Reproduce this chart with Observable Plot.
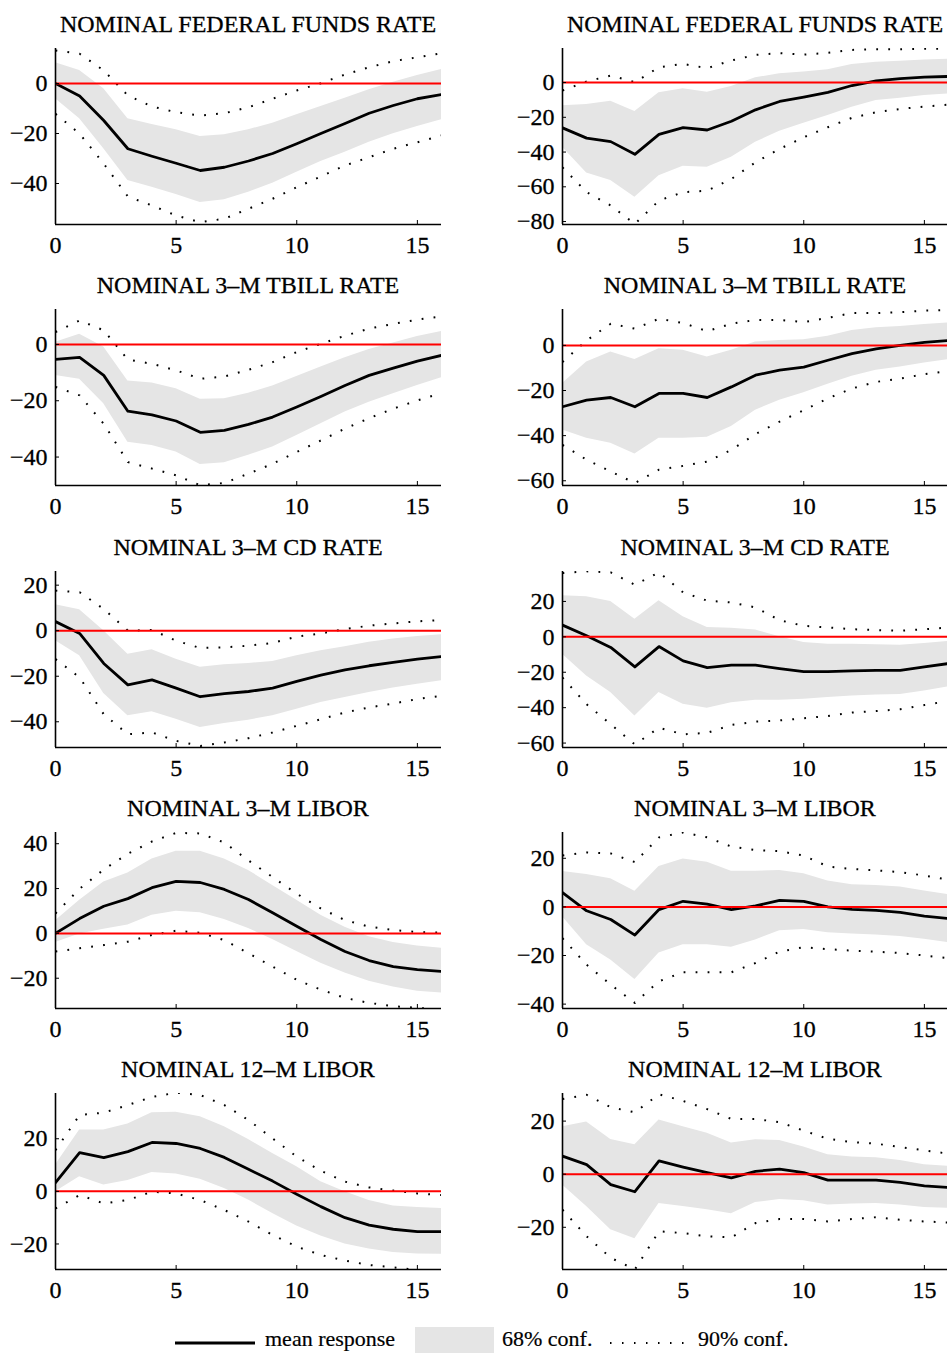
<!DOCTYPE html>
<html>
<head>
<meta charset="utf-8">
<script src="https://cdn.jsdelivr.net/npm/d3@7"></script>
<script src="https://cdn.jsdelivr.net/npm/@observablehq/plot@0.6"></script>
<style>
  html, body { margin: 0; padding: 0; background: #fff; }
  #root { position: relative; width: 947px; height: 1353px; overflow: hidden; background: #fff; font-family: "Liberation Serif", Tinos, "Times New Roman", "DejaVu Serif", serif; }
  .title { position: absolute; width: 386px; text-align: center; font-size: 24px; line-height: 24px; color: #000; white-space: nowrap; -webkit-text-stroke: 0.3px #000; }
  .panel { position: absolute; }
  svg.panel text { stroke: #000; stroke-width: 0.3px; }
  .leg { position: absolute; font-size: 22px; line-height: 22px; color: #000; white-space: nowrap; -webkit-text-stroke: 0.2px #000; }
</style>
</head>
<body>
<div id="root"></div>
<script>
// ---------- data ----------
const horizon = [0,1,2,3,4,5,6,7,8,9,10,11,12,13,14,15,16];
const xTicks = [0, 5, 10, 15];
const titles = ["NOMINAL FEDERAL FUNDS RATE", "NOMINAL 3–M TBILL RATE", "NOMINAL 3–M CD RATE", "NOMINAL 3–M LIBOR", "NOMINAL 12–M LIBOR"];

// Row 1, left: federal funds rate
const ffrL_mean = [0,-5,-14.8,-26.1,-29.1,-31.9,-34.8,-33.5,-31,-28,-24.1,-20,-16,-11.9,-8.8,-6.1,-4.4];
const ffrL_hi68 = [8.3,5.2,-2.1,-14.1,-16.4,-18.5,-21.2,-20.5,-18.5,-15.9,-12.5,-9.2,-5.9,-2.5,0.5,3.2,5.6];
const ffrL_lo68 = [-6.1,-14.1,-26.1,-38.8,-41.5,-44.4,-47.6,-46.5,-43.5,-39.9,-35.5,-31.2,-27.5,-23.5,-20.1,-17.2,-14.5];
const ffrL_hi90 = [13.2,11.9,5.2,-4.8,-9.2,-11.5,-12.8,-11.9,-9.5,-6.1,-2.8,0.1,3.6,6.5,8.9,10.5,12.1];
const ffrL_lo90 = [-12.1,-20.1,-32.1,-45.2,-48.8,-52.8,-55.5,-54.1,-50.1,-46.1,-41.5,-37.2,-32.8,-29.5,-26.1,-23.5,-20.8];

// Row 1, right: federal funds rate
const ffrR_mean = [-26.1,-32,-34,-41.3,-29.8,-25.9,-27.3,-22.3,-15.7,-10.9,-8.4,-5.6,-1.7,1,2.3,3.1,3.5];
const ffrR_hi68 = [-13.4,-12.7,-10.7,-16.7,-5.8,-3.6,-5.6,-2.3,2.7,5,6.1,7.3,10.4,11.7,12.3,13,13.4];
const ffrR_lo68 = [-37.2,-52,-56.4,-66,-53.6,-48.2,-48.8,-43,-34.4,-28,-23.4,-19,-14.2,-10.4,-9,-7.5,-6.5];
const ffrR_hi90 = [-4.6,0.6,4,0.2,8.8,10.7,8.3,12.7,15.9,16.9,16.1,17.1,18.8,19.2,19.2,19.4,19.4];
const ffrR_lo90 = [-48.8,-63.1,-70.8,-81.4,-67.9,-63.1,-62.2,-55.5,-45.9,-38.2,-31.5,-25.7,-20.3,-17.1,-15.2,-13.8,-12.7];

// Row 2, left: 3-M T-bill
const tbL_mean = [-5.3,-4.6,-11,-23.7,-25,-27.2,-31.2,-30.5,-28.4,-25.8,-22.2,-18.5,-14.6,-11,-8.4,-5.9,-3.9];
const tbL_hi68 = [0.8,3.6,-0.9,-13,-13.7,-15.7,-19.5,-19.3,-17.3,-14.8,-11.4,-8,-4.7,-1.8,0.5,2.8,4.6];
const tbL_lo68 = [-11,-12.4,-21.1,-34.7,-35.9,-38.2,-42.6,-42,-39.4,-36.4,-32.3,-28.2,-24,-20.5,-17.5,-14.6,-11.8];
const tbL_hi90 = [4.4,8.5,5,-5.4,-6.9,-9.2,-12.2,-11.4,-9,-6.3,-2.7,0.2,3.1,5.6,7.3,8.8,9.9];
const tbL_lo90 = [-15.1,-18.1,-28.2,-41.8,-44.1,-46.5,-50,-49.2,-45.9,-42.4,-38.2,-34.1,-29.9,-26.2,-22.8,-19.9,-17.3];

// Row 2, right: 3-M T-bill
const tbR_mean = [-27.2,-24.3,-23.1,-27.2,-21.3,-21.3,-23.1,-18.4,-13.2,-11,-9.6,-6.6,-3.7,-1.5,0,1.3,2.2];
const tbR_hi68 = [-16.9,-7.4,-2.9,-6.3,-1.5,-2.2,-5.1,-2.2,1.5,2.2,2.5,4,6.6,7.8,8.4,9.3,9.9];
const tbR_lo68 = [-37.5,-41.2,-43.4,-48.1,-41.2,-41.2,-40.7,-36,-28.7,-24.3,-21,-17.2,-13.7,-11,-9.6,-7.8,-6.3];
const tbR_hi90 = [-7.4,2.2,9.6,7.4,11.8,9.9,6.3,9.6,11.3,11.3,10.3,12.2,14.3,14.3,14.7,15.4,15.7];
const tbR_lo90 = [-44.1,-50.7,-55.9,-61,-55.1,-53.4,-51.5,-46.3,-39.3,-33.8,-28.7,-23.5,-19.1,-16.2,-14.7,-12.8,-11.3];

// Row 3, left: 3-M CD rate
const cdL_mean = [4,-1.2,-14.4,-23.8,-21.6,-25.2,-29,-27.6,-26.7,-25.2,-22.3,-19.5,-17.2,-15.4,-13.9,-12.5,-11.4];
const cdL_hi68 = [11.4,9.2,0,-10.3,-8.4,-12.5,-16.1,-15,-14.4,-13.5,-11,-8.8,-7,-5.1,-3.7,-2.6,-1.8];
const cdL_lo68 = [-4.4,-11,-27.6,-37.4,-35.6,-38.9,-42.5,-40.8,-39.3,-37.4,-34.5,-31.5,-29.3,-27.1,-25.2,-23.5,-22];
const cdL_hi90 = [17.6,16.9,9.5,0,0.3,-4.4,-7.6,-7.3,-6.6,-5.4,-2.6,-1.2,0.7,2.2,3.2,4.1,4.7];
const cdL_lo90 = [-12.5,-20.5,-36.7,-45.5,-44.7,-48.4,-50.6,-49.1,-47.2,-44.7,-41.8,-38.9,-35.9,-33.7,-32,-30,-28.6];

// Row 3, right: 3-M CD rate
const cdR_mean = [6.6,0.6,-6,-17,-5.5,-13.6,-17.4,-16,-16,-17.9,-19.6,-19.6,-19.2,-18.9,-18.9,-17,-15.1];
const cdR_hi68 = [23.2,22.6,20,10,20.4,11.3,5.3,4.9,3.8,0,-3.2,-4.2,-4.2,-4.5,-4.7,-3.8,-2.6];
const cdR_lo68 = [-9.8,-22.1,-31.5,-44.7,-31.5,-38.1,-40.4,-37.2,-35.8,-35.8,-35.3,-34.3,-33.4,-32.8,-32.5,-30.6,-28.3];
const cdR_hi90 = [36,37,36.4,29.4,36.4,25.1,20.4,19.4,16.6,9.4,6.2,5.3,4.3,3.8,3.4,4.3,5.3];
const cdR_lo90 = [-23,-38.1,-49.4,-60.8,-51.3,-55.1,-54.2,-49.8,-47.9,-47.2,-46,-44.7,-42.8,-41.9,-40.9,-38.5,-36.2];

// Row 4, left: 3-M LIBOR
const l3L_mean = [0,6.6,12.1,15.5,20.4,23.2,22.7,19.6,15.1,9.2,3.2,-2.7,-8.1,-12.1,-14.8,-16.2,-17];
const l3L_hi68 = [5.6,14.8,22.9,26.9,33.2,36.6,36.6,33.2,28.1,21.4,14.8,8.1,2.7,-1.5,-4.1,-5.6,-6.6];
const l3L_lo68 = [-4.1,-0.3,1.8,3.7,8.1,9.9,9.2,6.2,2.2,-2.7,-8.1,-13.3,-17.7,-21.4,-23.9,-25.8,-26.6];
const l3L_hi90 = [8.9,19.9,28.5,35.5,41,44.8,44.6,40.5,32.5,25.1,17.7,11.1,5.9,3,1.5,0.6,0.3];
const l3L_lo90 = [-8.1,-6.6,-5.2,-3.7,-0.7,1.2,0.3,-3,-8.9,-14.8,-20.7,-25.1,-28.8,-31,-32.5,-33.2,-34];

// Row 4, right: 3-M LIBOR
const l3R_mean = [5.9,-1.6,-5.2,-11.6,-1.1,2.3,1.1,-1.1,0.4,2.7,2.3,0,-1,-1.4,-2.3,-3.8,-4.8];
const l3R_hi68 = [14.6,13.3,11.6,6.4,16.6,19.7,18.4,14.7,14.7,15,13.6,10.6,9.1,8.8,8.2,6.5,5];
const l3R_lo68 = [-4.1,-15.6,-21.8,-29.9,-19,-15.6,-15.6,-16.6,-13.6,-9.8,-9.3,-10.6,-11.2,-11.6,-12.2,-13.3,-14.7];
const l3R_hi90 = [21.1,22.4,22,18.4,28.6,30.6,28.6,24.8,23.4,22.9,21.1,16.6,15.6,15,14.3,12.9,11.2];
const l3R_lo90 = [-12.9,-23.8,-32,-39.5,-30.6,-26.9,-26.9,-26.9,-23.1,-18.4,-16.6,-17.4,-18,-18.4,-19,-20,-21.1];

// Row 5, left: 12-M LIBOR
const l12L_mean = [3.3,14.7,12.8,15.1,18.6,18.2,16.3,12.9,8.4,3.9,-1.1,-5.8,-10,-12.8,-14.4,-15.3,-15.3];
const l12L_hi68 = [10,23.3,23.3,25.6,29.9,30.1,28.4,24.6,19.7,14.4,9.4,3.7,-0.1,-3.5,-5.6,-6.1,-6.5];
const l12L_lo68 = [-0.1,5.6,2.4,4.1,7.2,6.6,4.6,1.1,-3.3,-8.4,-13.2,-17,-20,-21.9,-23.2,-23.8,-23.9];
const l12L_hi90 = [15.7,29,29.9,32.8,35.9,37.5,36.6,32.8,27.1,20.1,13.2,7.8,3.7,1.5,0.3,-0.8,-1.4];
const l12L_lo90 = [-6.5,-1.4,-4.6,-3.3,-0.1,-0.8,-3.3,-7.1,-11.5,-16.6,-21,-24.2,-26.3,-28,-28.9,-29.9,-30.1];

// Row 5, right: 12-M LIBOR
const l12R_mean = [6.8,3.6,-3.9,-6.6,5,2.7,0.6,-1.4,1.1,1.9,0.6,-2.2,-2.2,-2.2,-3.1,-4.4,-5];
const l12R_hi68 = [17.9,19.7,13.1,11.1,20.4,17.9,15.4,11.8,13,12.7,10.2,7.3,6.5,6.2,5.2,3.6,3];
const l12R_lo68 = [-4.1,-12.2,-20.9,-24.3,-11,-12.2,-13.4,-14.9,-10.7,-9.5,-10,-11.6,-11.2,-11,-11.6,-12.5,-12.8];
const l12R_hi90 = [28.3,29.9,25.2,23.3,30.1,27.6,24.5,20.8,20.8,19.6,16.4,13.3,12.1,11.5,10.2,9,7.7];
const l12R_lo90 = [-13.4,-23.4,-31.5,-35.9,-21.5,-22.2,-23.4,-23.8,-18.4,-16.9,-16.9,-17.8,-16.9,-16.2,-17.2,-17.8,-18.2];

// y-axis domains and tick labels per panel (row-major: left, right)
const yDomains = [[-56.4,14],[-81.7,19.6],[-50.1,12.4],[-62.1,15.9],[-51.3,26],[-62.5,36.9],[-33.5,45],[-41.8,30.6],[-29.7,37.2],[-35.9,30.4]];
const yTickSets = [[-40,-20,0],[-80,-60,-40,-20,0],[-40,-20,0],[-60,-40,-20,0],[-40,-20,0,20],[-60,-40,-20,0,20],[-20,0,20,40],[-40,-20,0,20],[-20,0,20],[-20,0,20]];

const series = [
  [ffrL_mean, ffrL_lo68, ffrL_hi68, ffrL_lo90, ffrL_hi90],
  [ffrR_mean, ffrR_lo68, ffrR_hi68, ffrR_lo90, ffrR_hi90],
  [tbL_mean, tbL_lo68, tbL_hi68, tbL_lo90, tbL_hi90],
  [tbR_mean, tbR_lo68, tbR_hi68, tbR_lo90, tbR_hi90],
  [cdL_mean, cdL_lo68, cdL_hi68, cdL_lo90, cdL_hi90],
  [cdR_mean, cdR_lo68, cdR_hi68, cdR_lo90, cdR_hi90],
  [l3L_mean, l3L_lo68, l3L_hi68, l3L_lo90, l3L_hi90],
  [l3R_mean, l3R_lo68, l3R_hi68, l3R_lo90, l3R_hi90],
  [l12L_mean, l12L_lo68, l12L_hi68, l12L_lo90, l12L_hi90],
  [l12R_mean, l12R_lo68, l12R_hi68, l12R_lo90, l12R_hi90]
];

// ---------- layout ----------
const plotW = 386, plotH = 176;
const mL = 55, mR = 6, mT = 4, mB = 38;
const rowTops = [48, 309, 571, 832, 1093];
const colLefts = [55, 562];
const FONT = '"Liberation Serif", Tinos, "Times New Roman", "DejaVu Serif", serif';

const root = document.getElementById("root");

series.forEach((s, k) => {
  const row = Math.floor(k / 2), col = k % 2;
  const [mean, lo68, hi68, lo90, hi90] = s;
  const data = horizon.map((h, i) => ({h, mean: mean[i], lo68: lo68[i], hi68: hi68[i], lo90: lo90[i], hi90: hi90[i]}));
  const dom = yDomains[k], yt = yTickSets[k];
  const dotted = {stroke: "#000", strokeWidth: 2, strokeDasharray: "1.8,10.2", strokeLinecap: "butt", clip: true};

  const svg = Plot.plot({
    width: mL + plotW + mR,
    height: mT + plotH + mB,
    marginLeft: mL, marginRight: mR, marginTop: mT, marginBottom: mB,
    x: {domain: [0, 16], ticks: xTicks, tickSize: 0, tickPadding: 11, label: null},
    y: {domain: dom, ticks: yt, tickSize: 0, tickPadding: 8, label: null},
    style: {fontFamily: FONT, fontSize: "24px", color: "#000", background: "transparent", overflow: "visible"},
    marks: [
      Plot.areaY(data, {x: "h", y1: "lo68", y2: "hi68", fill: "#e5e5e5", clip: true}),
      Plot.lineY(data, {x: "h", y: "hi90", ...dotted}),
      Plot.lineY(data, {x: "h", y: "lo90", ...dotted}),
      Plot.lineY(data, {x: "h", y: "mean", stroke: "#000", strokeWidth: 2.8, clip: true}),
      Plot.ruleY([0], {stroke: "#ff0000", strokeWidth: 2}),
      Plot.ruleX([0], {stroke: "#000", strokeWidth: 1.6}),
      Plot.ruleY([dom[0]], {stroke: "#000", strokeWidth: 1.6}),
      Plot.tickY(yt, {y: d => d, stroke: "#000", strokeWidth: 1, insetRight: plotW - 4}),
      Plot.tickX(xTicks, {x: d => d, stroke: "#000", strokeWidth: 1, insetTop: plotH - 4})
    ]
  });
  svg.classList.add("panel");
  svg.style.left = (colLefts[col] - mL) + "px";
  svg.style.top = (rowTops[row] - mT) + "px";
  root.appendChild(svg);

  const t = document.createElement("div");
  t.className = "title";
  t.textContent = titles[row];
  t.style.left = colLefts[col] + "px";
  t.style.top = (rowTops[row] - 36) + "px";
  root.appendChild(t);
});

// ---------- legend ----------
const legendLabels = ["mean response", "68% conf.", "90% conf."];
const lg = document.createElementNS("http://www.w3.org/2000/svg", "svg");
lg.setAttribute("width", 947); lg.setAttribute("height", 40);
lg.style.position = "absolute"; lg.style.left = "0px"; lg.style.top = "1318px";
lg.innerHTML =
  '<line x1="175" x2="255" y1="25" y2="25" stroke="#000" stroke-width="2.8"/>' +
  '<rect x="415" y="9" width="79" height="31" fill="#e5e5e5"/>' +
  '<line x1="610" x2="686" y1="25" y2="25" stroke="#000" stroke-width="1.8" stroke-dasharray="1.5,10.5"/>';
root.appendChild(lg);
[[265, legendLabels[0]], [502, legendLabels[1]], [698, legendLabels[2]]].forEach(([x, txt]) => {
  const d = document.createElement("div");
  d.className = "leg";
  d.textContent = txt;
  d.style.left = x + "px";
  d.style.top = "1328px";
  root.appendChild(d);
});
</script>
</body>
</html>
